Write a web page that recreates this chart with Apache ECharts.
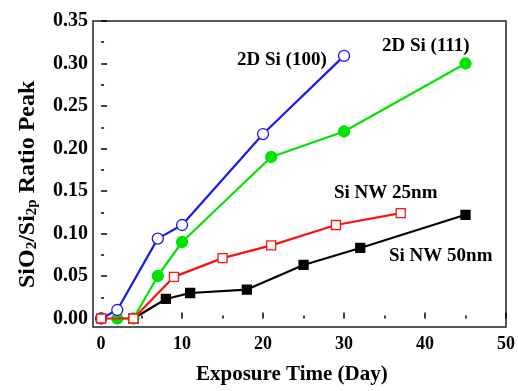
<!DOCTYPE html>
<html><head><meta charset="utf-8">
<script src="https://cdn.jsdelivr.net/npm/echarts@6/dist/echarts.min.js"></script>
<style>html,body{margin:0;padding:0;background:#fff}#c{width:518px;height:391px}</style>
</head><body><div id="c"></div>
<script>
var xTicks = [0, 10, 20, 30, 40, 50];
var xMinor = [5, 15, 25, 35, 45];
var yTicks = [0, 0.05, 0.10, 0.15, 0.20, 0.25, 0.30, 0.35];
var yMinor = [0.025, 0.075, 0.125, 0.175, 0.225, 0.275, 0.325];

var si100 = [[0, 0], [2, 0.01], [7, 0.094], [10, 0.11], [20, 0.217], [30, 0.309]];
var si111 = [[2, 0], [4, 0], [7, 0.05], [10, 0.09], [21, 0.19], [30, 0.22], [45, 0.30]];
var nw25 = [[0, 0], [4, 0], [9, 0.049], [15, 0.071], [21, 0.086], [29, 0.11], [37, 0.124]];
var nw50 = [[4, 0], [8, 0.023], [11, 0.03], [18, 0.034], [25, 0.063], [32, 0.083], [45, 0.122]];

var seriesNames = ['2D Si (100)', '2D Si (111)', 'Si NW 25nm', 'Si NW 50nm'];

var FONT = '"Liberation Serif", "DejaVu Serif", serif';
var chart = echarts.init(document.getElementById('c'));

function xAxisDef(ticks, minor) {
  return {
    type: 'value', min: -1, max: 50, position: 'bottom', offset: 0,
    axisLine: { show: false },
    splitLine: { show: false },
    axisTick: { show: true, inside: true, length: minor ? 3 : 6, customValues: ticks,
      lineStyle: { color: '#000', width: 1.5 } },
    axisLabel: { show: !minor, customValues: ticks, margin: 8, color: '#000',
      fontFamily: FONT, fontWeight: 'bold', fontSize: 18 }
  };
}
function yAxisDef(ticks, minor) {
  return {
    type: 'value', min: -0.01, max: 0.35, position: 'left', offset: 0,
    axisLine: { show: false },
    splitLine: { show: false },
    axisTick: { show: true, inside: true, length: minor ? 3 : 6, customValues: ticks,
      lineStyle: { color: '#000', width: 1.5 } },
    axisLabel: { show: !minor, customValues: ticks, margin: 5, color: '#000',
      fontFamily: FONT, fontWeight: 'bold', fontSize: 20,
      formatter: function (v) { return v.toFixed(2); } }
  };
}

function mk(name, data, color, symbol, filled, size, z) {
  return {
    name: name, type: 'line', data: data, xAxisIndex: 0, yAxisIndex: 0,
    symbol: symbol, symbolSize: size, showSymbol: true, z: z,
    lineStyle: { color: color, width: 2.2 },
    itemStyle: { color: filled ? color : '#fff', borderColor: color, borderWidth: 1.3, opacity: 1 },
    emphasis: { disabled: true }, animation: false
  };
}

var labFont = 'bold 19px ' + FONT;

chart.setOption({
  animation: false,
  grid: { left: 93, top: 21, right: 9, bottom: 64, show: true, borderColor: '#222', borderWidth: 1.5, backgroundColor: 'transparent' },
  xAxis: [xAxisDef(xTicks, false), xAxisDef(xMinor, true)],
  yAxis: [yAxisDef(yTicks, false), yAxisDef(yMinor, true)],
  series: [
    mk(seriesNames[3], nw50, '#000000', 'rect', true, 9, 2),
    mk(seriesNames[1], si111, '#00e400', 'circle', true, 11, 3),
    mk(seriesNames[0], si100, '#1a1aee', 'circle', false, 11, 4),
    mk(seriesNames[2], nw25, '#ff1010', 'rect', false, 9, 5)
  ],
  graphic: [
    { type: 'text', left: 237, top: 51, style: { text: seriesNames[0], fill: '#000', font: labFont } },
    { type: 'text', left: 382, top: 37, style: { text: seriesNames[1], fill: '#000', font: labFont } },
    { type: 'text', left: 334, top: 184, style: { text: seriesNames[2], fill: '#000', font: labFont } },
    { type: 'text', left: 389, top: 247, style: { text: seriesNames[3], fill: '#000', font: labFont } },
    { type: 'text', left: 196, top: 364, style: { text: 'Exposure Time (Day)', fill: '#000', font: 'bold 21px ' + FONT } },
    { type: 'text', x: 12, y: 288, rotation: Math.PI / 2,
      style: { text: '{m|SiO}{s|2}{m|/Si}{s|2p}{m| Ratio Peak}', fill: '#000',
        rich: {
          m: { fontFamily: FONT, fontWeight: 'bold', fontSize: 24, fill: '#000', lineHeight: 28, verticalAlign: 'bottom' },
          s: { fontFamily: FONT, fontWeight: 'bold', fontSize: 15, fill: '#000', lineHeight: 28, verticalAlign: 'bottom', padding: [9, 0, 0, 0] }
        } } }
  ]
});
</script></body></html>
